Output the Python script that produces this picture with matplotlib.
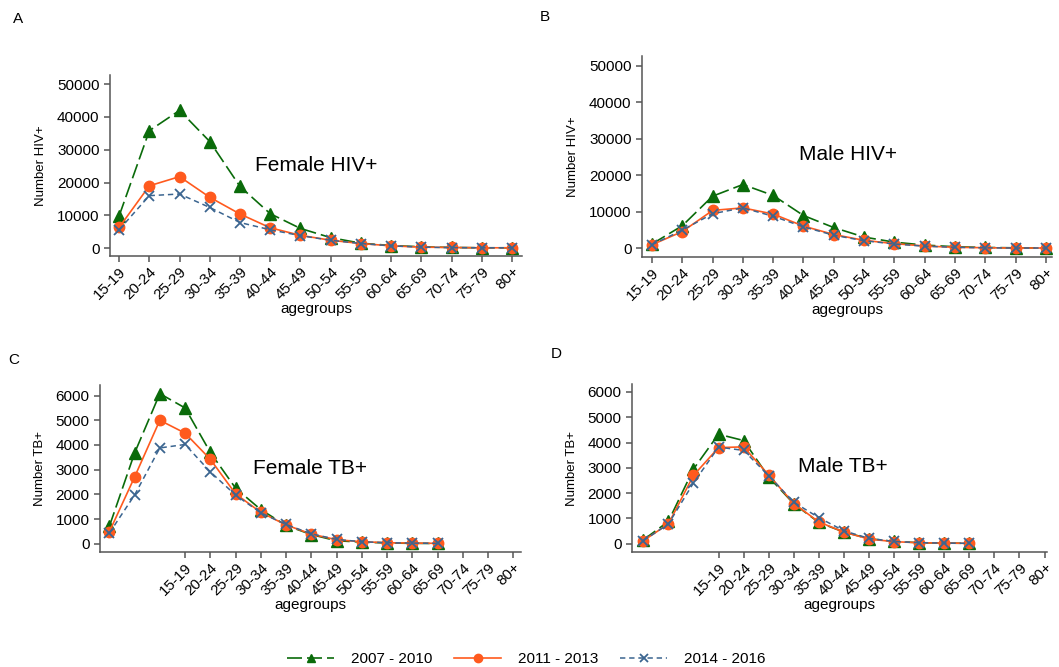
import numpy as np
import matplotlib

matplotlib.use("Agg")
import matplotlib.pyplot as plt

plt.rcParams["font.family"] = ["Liberation Sans", "DejaVu Sans"]

AGE_GROUPS = ["15-19", "20-24", "25-29", "30-34", "35-39", "40-44", "45-49",
              "50-54", "55-59", "60-64", "65-69", "70-74", "75-79", "80+"]
PERIODS = ["2007 - 2010", "2011 - 2013", "2014 - 2016"]

# HIV+ counts by age group, one list per period
female_hiv_0710 = [9800, 35800, 42000, 32500, 18800, 10500, 6000, 3200, 1500, 800, 400, 200, 100, 100]
female_hiv_1113 = [6300, 19000, 21800, 15500, 10400, 6200, 3900, 2400, 1400, 700, 300, 200, 100, 100]
female_hiv_1416 = [5600, 16000, 16500, 12400, 7800, 5600, 3800, 2400, 1400, 700, 300, 150, 100, 100]

male_hiv_0710 = [1200, 6200, 14300, 17500, 14500, 9000, 5700, 3100, 1700, 900, 450, 250, 150, 100]
male_hiv_1113 = [1000, 4600, 10400, 11100, 9400, 6100, 3800, 2200, 1300, 650, 300, 180, 100, 100]
male_hiv_1416 = [1000, 5000, 9500, 11100, 8800, 5900, 3600, 2100, 1200, 600, 300, 150, 100, 100]

# TB+ counts (14 points each)
female_tb_0710 = [700, 3670, 6080, 5500, 3700, 2250, 1380, 740, 370, 120, 65, 30, 15, 10]
female_tb_1113 = [480, 2700, 5000, 4480, 3420, 2020, 1270, 760, 390, 160, 80, 40, 25, 15]
female_tb_1416 = [430, 1970, 3880, 4020, 2910, 1970, 1250, 780, 400, 175, 80, 40, 25, 15]

male_tb_0710 = [150, 880, 2950, 4330, 4080, 2640, 1580, 840, 460, 200, 90, 40, 25, 15]
male_tb_1113 = [120, 780, 2700, 3800, 3830, 2720, 1590, 860, 460, 185, 80, 40, 25, 15]
male_tb_1416 = [120, 780, 2400, 3820, 3690, 2690, 1640, 1030, 510, 210, 90, 40, 25, 15]

GREEN = "#0a6b0a"
ORANGE = "#ff5a1e"
BLUE = "#3b6590"

STYLES = [
    dict(color=GREEN, marker="^", ms=8, lw=1.2, dashes=(9, 3)),
    dict(color=ORANGE, marker="o", ms=7.5, lw=1.2, ls="-"),
    dict(color=BLUE, marker="x", ms=6.5, mew=1.3, lw=1.1, dashes=(3.5, 2.5)),
]


def draw_panel(ax, series, tick_offset, ymax, ystep, ylabel, xlim, ylim):
    x = np.arange(len(series[0]))
    for vals, style in zip(series, STYLES):
        ax.plot(x, vals, **style)
    for side in ("top", "right"):
        ax.spines[side].set_visible(False)
    for side in ("left", "bottom"):
        ax.spines[side].set_color("#555555")
        ax.spines[side].set_linewidth(1.1)
    ax.set_xticks(np.arange(len(AGE_GROUPS)) + tick_offset)
    ax.set_xticklabels(AGE_GROUPS, rotation=45, ha="right",
                       rotation_mode="anchor", fontsize=10.5)
    ax.set_yticks(np.arange(0, ymax + 1, ystep))
    ax.tick_params(axis="both", direction="out", length=4, width=1.1,
                   color="#555555", labelsize=11)
    ax.tick_params(axis="x", pad=2)
    ax.set_xlim(*xlim)
    ax.set_ylim(*ylim)
    ax.set_ylabel(ylabel, fontsize=9.5, labelpad=7)
    ax.set_xlabel("agegroups", fontsize=11, labelpad=0)


fig = plt.figure(figsize=(10.59, 6.67), dpi=100)

ax_a = fig.add_axes([0.1039, 0.6162, 0.389, 0.2714])
ax_b = fig.add_axes([0.6062, 0.6147, 0.3872, 0.3013])
ax_c = fig.add_axes([0.0944, 0.1724, 0.3975, 0.2504])
ax_d = fig.add_axes([0.5968, 0.1724, 0.3919, 0.2519])

draw_panel(ax_a, [female_hiv_0710, female_hiv_1113, female_hiv_1416], 0,
           50000, 10000, "Number HIV+", (-0.3, 13.33), (-2400, 52800))
draw_panel(ax_b, [male_hiv_0710, male_hiv_1113, male_hiv_1416], 0,
           50000, 10000, "Number HIV+", (-0.33, 13.2), (-2360, 52700))
draw_panel(ax_c, [female_tb_0710, female_tb_1113, female_tb_1416], 3,
           6000, 1000, "Number TB+", (-0.37, 16.3), (-336, 6430))
draw_panel(ax_d, [male_tb_0710, male_tb_1113, male_tb_1416], 3,
           6000, 1000, "Number TB+", (-0.45, 16.1), (-328, 6316))

# panel titles inside the plotting area
fig.text(316 / 1059, 1 - 166 / 667, "Female HIV+", fontsize=15, ha="center", va="center")
fig.text(848 / 1059, 1 - 155 / 667, "Male HIV+", fontsize=15, ha="center", va="center")
fig.text(310 / 1059, 1 - 468 / 667, "Female TB+", fontsize=15, ha="center", va="center")
fig.text(843 / 1059, 1 - 467 / 667, "Male TB+", fontsize=15, ha="center", va="center")

# panel letters
for letter, (px, py) in zip("ABCD", [(18, 19), (545, 17), (14, 360), (556, 354)]):
    fig.text(px / 1059, 1 - py / 667, letter, fontsize=11, ha="center", va="center")

handles = ax_a.get_lines()
fig.legend(handles, PERIODS, loc="center", bbox_to_anchor=(0.497, 1 - 659 / 667),
           ncol=3, frameon=False, fontsize=11, handlelength=3.1,
           columnspacing=1.4, handletextpad=1.1, markerscale=0.8)

fig.savefig("out.png", dpi=100)
